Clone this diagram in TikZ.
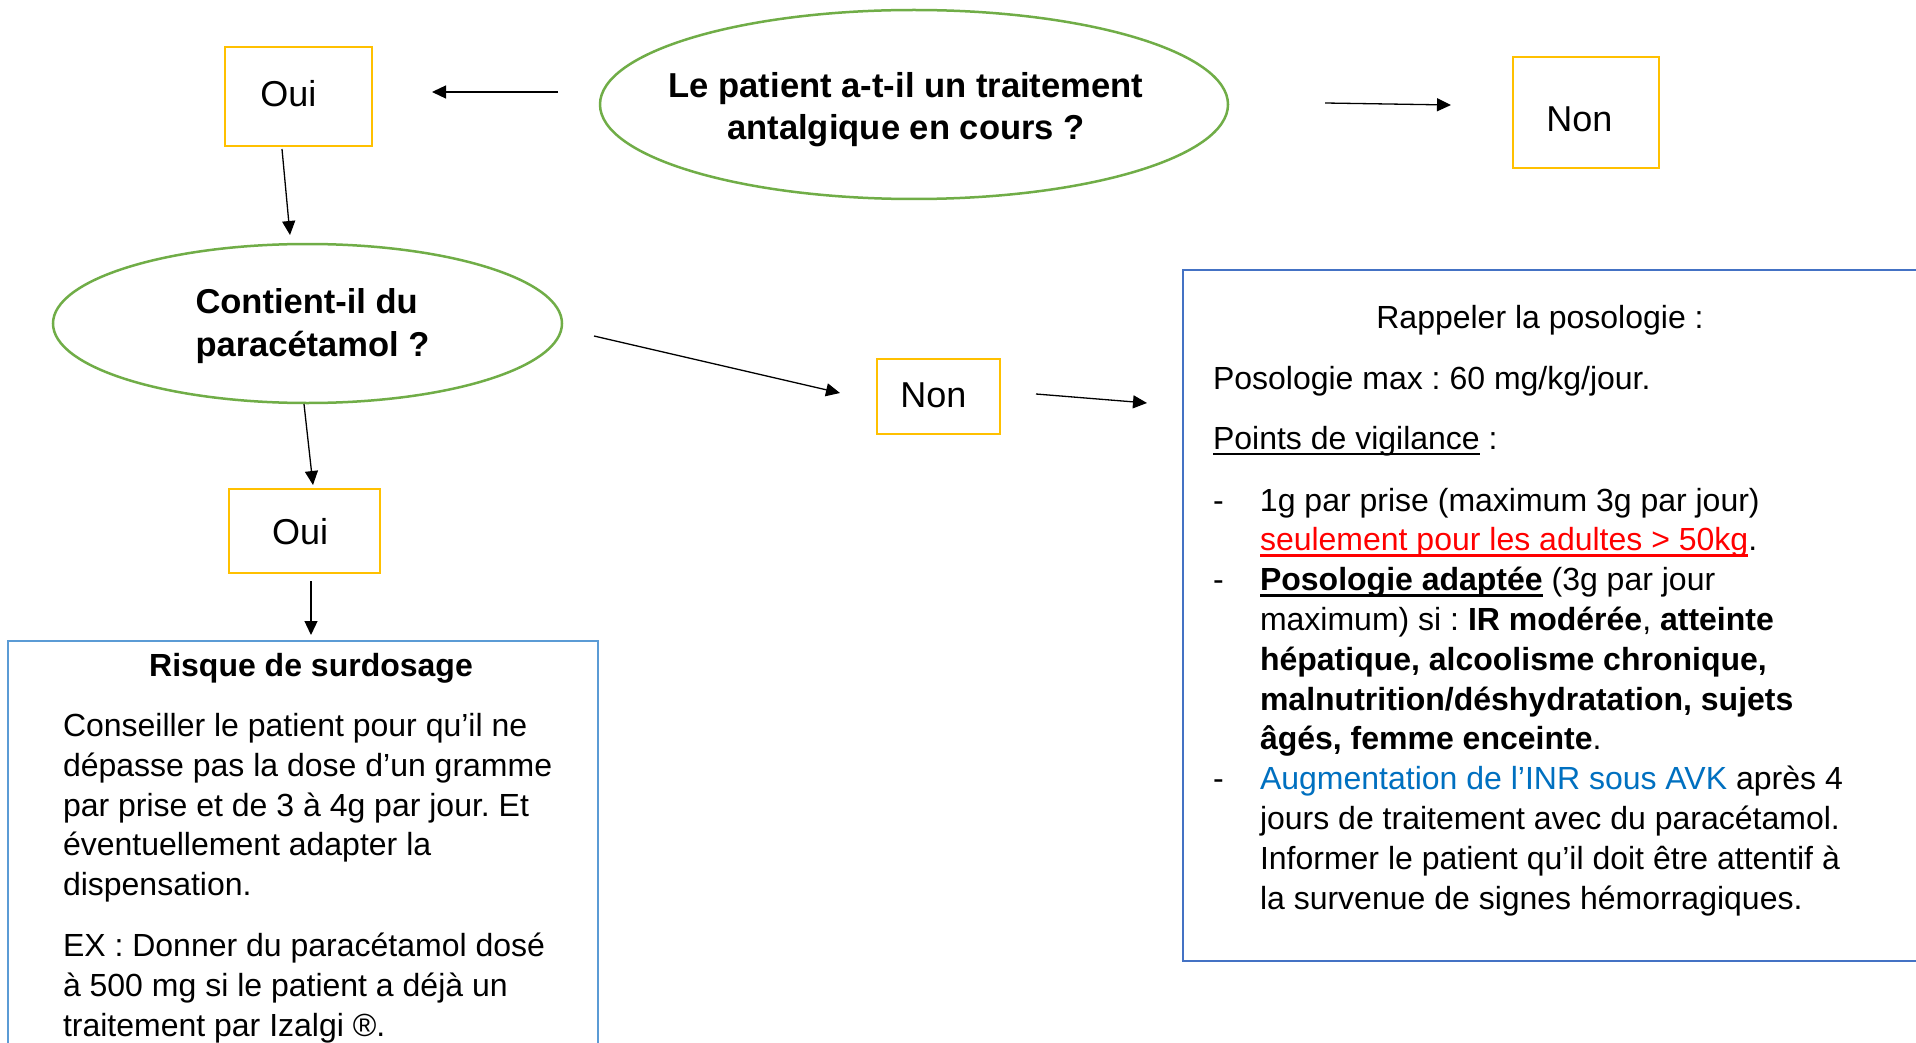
\documentclass[tikz,border=0pt]{standalone}
\usepackage{fontspec}
\setmainfont{Liberation Sans}
\usetikzlibrary{shapes.geometric,arrows.meta,calc}
\definecolor{ybord}{HTML}{FFC000}
\definecolor{gbord}{HTML}{70AD47}
\definecolor{bbord}{HTML}{4472C4}
\definecolor{lbord}{HTML}{5B9BD5}
\definecolor{redtxt}{HTML}{FF0000}
\definecolor{bluetxt}{HTML}{0070C0}
\newcommand\myul[1]{\setbox0\hbox{#1}\rlap{\rule[-6pt]{\wd0}{2.4pt}}\box0\relax}
\frenchspacing
\begin{document}
\begin{tikzpicture}[x=1pt,y=-1pt,
  every node/.style={outer sep=0pt},
  ybox/.style={draw=ybord, line width=2.5pt, rectangle, inner ysep=0pt, text depth=0pt, align=left, font=\fontsize{36}{43}\selectfont},
  qell/.style={draw=gbord, line width=2.5pt, ellipse, inner sep=0pt},
  qtxt/.style={font=\fontsize{34.6}{42}\bfseries\selectfont, align=center, inner sep=0pt},
  bluebox/.style={draw=#1, line width=2.5pt, rectangle, inner sep=0pt, anchor=north west},
  btxt/.style={font=\fontsize{32}{39.8}\selectfont, inner sep=0pt},
  arr/.style={line width=1.3pt, -{Triangle[length=14pt,width=13pt]}},
]
\useasboundingbox (0,0) rectangle (1916,1043);
\fill[white] (0,0) rectangle (1916,1043);

% question ellipses
\node[qell, minimum width=628pt, minimum height=189pt] (e1) at (914,104.5) {};
\node[qtxt, anchor=base] (e1t) at ($(e1.center)+(-8,35.5)$) {Le patient a-t-il un traitement\\antalgique en cours ?};
\node[qell, minimum width=509pt, minimum height=159pt] (e2) at (307.5,323.5) {};
\node[qtxt, align=left, anchor=base west, font=\fontsize{34.5}{43.5}\bfseries\selectfont] (e2t) at ($(e2.center)+(-112,33)$) {Contient-il du\\paracétamol ?};

% answer boxes
\node[ybox, minimum height=99pt, text width=76.2pt, inner xsep=35.4pt, text height=21pt] (oui1) at (298.5,96.5) {Oui};
\node[ybox, minimum height=111pt, text width=79.2pt, inner xsep=33.4pt, text height=39pt] (non1) at (1586,112.5) {Non};
\node[ybox, minimum height=75pt, text width=76.2pt, inner xsep=23.4pt, text height=21pt] (non2) at (938.5,396.5) {Non};
\node[ybox, minimum height=84pt, text width=65pt, inner xsep=43pt, text height=26pt] (oui2) at (304.5,531) {Oui};

% information boxes
\node[bluebox=bbord, minimum width=757pt, minimum height=691pt] (rbox) at (1183,270) {};
\node[bluebox=lbord, minimum width=590pt, minimum height=429pt] (kbox) at (8,641) {};

\node[btxt, anchor=base] (rt1) at (1540,328) {Rappeler la posologie :};
\node[btxt, align=left, anchor=base west] (rt2) at (1213,909) {Posologie max : 60 mg/kg/jour.\\[20pt]
\myul{Points de vigilance} :\\[22pt]
\makebox[47pt][l]{-}1g par prise (maximum 3g par jour)\\
\hspace*{47pt}\textcolor{redtxt}{\myul{seulement pour les adultes > 50kg}}.\\
\makebox[47pt][l]{-}\myul{\textbf{Posologie adaptée}} (3g par jour\\
\hspace*{47pt}maximum) si : \textbf{IR modérée}, \textbf{atteinte}\\
\hspace*{47pt}\textbf{hépatique, alcoolisme chronique,}\\
\hspace*{47pt}\textbf{malnutrition/déshydratation, sujets}\\
\hspace*{47pt}\textbf{âgés, femme enceinte}.\\
\makebox[47pt][l]{-}\textcolor{bluetxt}{Augmentation de l’INR sous AVK} après 4\\
\hspace*{47pt}jours de traitement avec du paracétamol.\\
\hspace*{47pt}Informer le patient qu’il doit être attentif à\\
\hspace*{47pt}la survenue de signes hémorragiques.};

\node[btxt, anchor=base, font=\fontsize{32}{39.8}\bfseries\selectfont] (kt1) at (311,676) {Risque de surdosage};
\node[btxt, align=left, anchor=base west] (kt2) at (63,1036) {Conseiller le patient pour qu’il ne\\
dépasse pas la dose d’un gramme\\
par prise et de 3 à 4g par jour. Et\\
éventuellement adapter la\\
dispensation.\\[21pt]
EX : Donner du paracétamol dosé\\
à 500 mg si le patient a déjà un\\
traitement par Izalgi ®.};

% connectors
\draw[arr] ($(e1.west)+(-42,-12.5)$) -- ($(oui1.east)+(60,-4.5)$);
\draw[arr] ($(e1.east)+(97,-1.5)$) -- ($(non1.west)+(-62,-7.5)$);
\draw[arr] ($(oui1.south)+(-16.5,3)$) -- ($(e2.north)+(-17.5,-9)$);
\draw[arr] ($(e2.east)+(32,12.5)$) -- ($(non2.west)+(-37,-3.5)$);
\draw[arr] ($(non2.east)+(36,-2.5)$) -- ($(rbox.north west)+(-36,133)$);
\draw[arr] ($(e2.south)+(-3.5,1)$) -- ($(oui2.north)+(8.5,-4)$);
\draw[arr] ($(oui2.south)+(6.5,8)$) -- ($(kbox.north)+(8,-6)$);
\end{tikzpicture}
\end{document}
